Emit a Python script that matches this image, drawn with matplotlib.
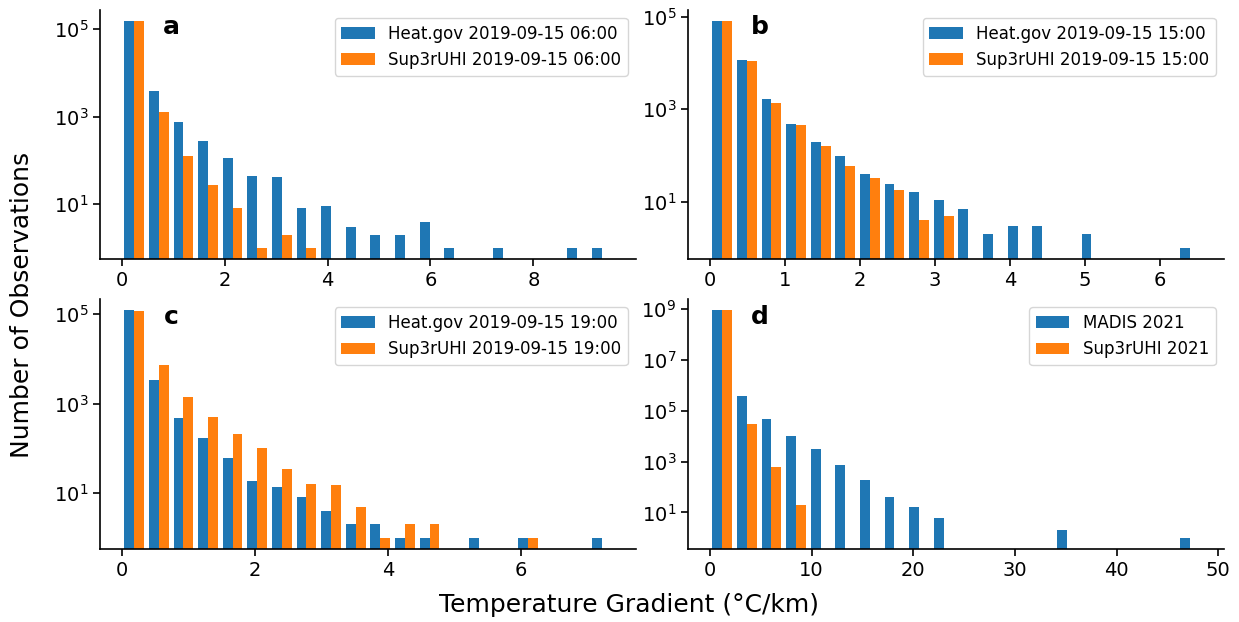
import numpy as np
import matplotlib
matplotlib.use("Agg")
import matplotlib.pyplot as plt
from matplotlib.ticker import NullLocator

# bin ranges (20 equal bins each)
range_a = (0.0, 9.57)
range_b = (0.0, 6.566)
range_c = (0.0, 7.40)
range_d = (0.0, 48.41)
n_bins = 20

# counts per bin
heat_a = [150000, 3900, 755, 279, 112, 45, 41, 8, 9, 3, 2, 2, 4, 1, 0, 1, 0, 0, 1, 1]
sup_a = [155000, 1280, 127, 27, 8, 1, 2, 1, 0, 0, 0, 0, 0, 0, 0, 0, 0, 0, 0, 0]

heat_b = [82000, 11700, 1690, 470, 198, 96, 40, 24, 16, 11, 7, 2, 3, 3, 0, 2, 0, 0, 0, 1]
sup_b = [82000, 11200, 1400, 460, 157, 58, 33, 18, 4, 5, 0, 0, 0, 0, 0, 0, 0, 0, 0, 0]

heat_c = [121000, 3390, 478, 168, 61, 19, 14, 8, 4, 2, 2, 1, 1, 0, 1, 0, 1, 0, 0, 1]
sup_c = [115000, 7350, 1410, 494, 213, 102, 35, 16, 15, 5, 1, 2, 2, 0, 0, 0, 1, 0, 0, 0]

madis_d = [8.9e8, 384000, 46600, 10600, 3090, 771, 182, 40, 17, 6, 0, 0, 0, 0, 2, 0, 0, 0, 0, 1]
sup_d = [8.9e8, 30500, 607, 19, 0, 0, 0, 0, 0, 0, 0, 0, 0, 0, 0, 0, 0, 0, 0, 0]

labels_a = ["Heat.gov 2019-09-15 06:00", "Sup3rUHI 2019-09-15 06:00"]
labels_b = ["Heat.gov 2019-09-15 15:00", "Sup3rUHI 2019-09-15 15:00"]
labels_c = ["Heat.gov 2019-09-15 19:00", "Sup3rUHI 2019-09-15 19:00"]
labels_d = ["MADIS 2021", "Sup3rUHI 2021"]

yticks_small = [1e1, 1e3, 1e5]
yticks_d = [1e1, 1e3, 1e5, 1e7, 1e9]

fig = plt.figure(figsize=(12.39, 6.22), dpi=100)

panels = [
    ("a", [0.0807, 0.5831, 0.4326, 0.4016], range_a, heat_a, sup_a, labels_a, yticks_small, [0, 2, 4, 6, 8]),
    ("b", [0.5553, 0.5831, 0.4326, 0.4016], range_b, heat_b, sup_b, labels_b, yticks_small, [0, 1, 2, 3, 4, 5, 6]),
    ("c", [0.0807, 0.1169, 0.4326, 0.4024], range_c, heat_c, sup_c, labels_c, yticks_small, [0, 2, 4, 6]),
    ("d", [0.5553, 0.1169, 0.4326, 0.4024], range_d, madis_d, sup_d, labels_d, yticks_d, [0, 10, 20, 30, 40, 50]),
]

for letter, pos, rng, obs, model, labels, yt, xt in panels:
    ax = fig.add_axes(pos)
    edges = np.linspace(rng[0], rng[1], n_bins + 1)
    centers = (edges[:-1] + edges[1:]) / 2
    ax.hist([centers, centers], bins=edges, weights=[obs, model], log=True,
            color=["#1f77b4", "#ff7f0e"], label=labels)
    ax.set_yticks(yt)
    ax.set_xticks(xt)
    ax.yaxis.set_minor_locator(NullLocator())
    ax.spines["top"].set_visible(False)
    ax.spines["right"].set_visible(False)
    for s in ["left", "bottom"]:
        ax.spines[s].set_linewidth(1.2)
    ax.tick_params(labelsize=14, width=1.2, length=5)
    ax.legend(loc="upper right", fontsize=12)
    ax.text(0.134, 0.93, letter, transform=ax.transAxes, fontsize=18,
            fontweight="bold", ha="center", va="center")

fig.text(0.018, 0.51, "Number of Observations", rotation=90, fontsize=18,
         ha="center", va="center")
fig.text(0.508, 0.027, "Temperature Gradient (°C/km)", fontsize=18,
         ha="center", va="center")

fig.savefig("out.png", dpi=100)
